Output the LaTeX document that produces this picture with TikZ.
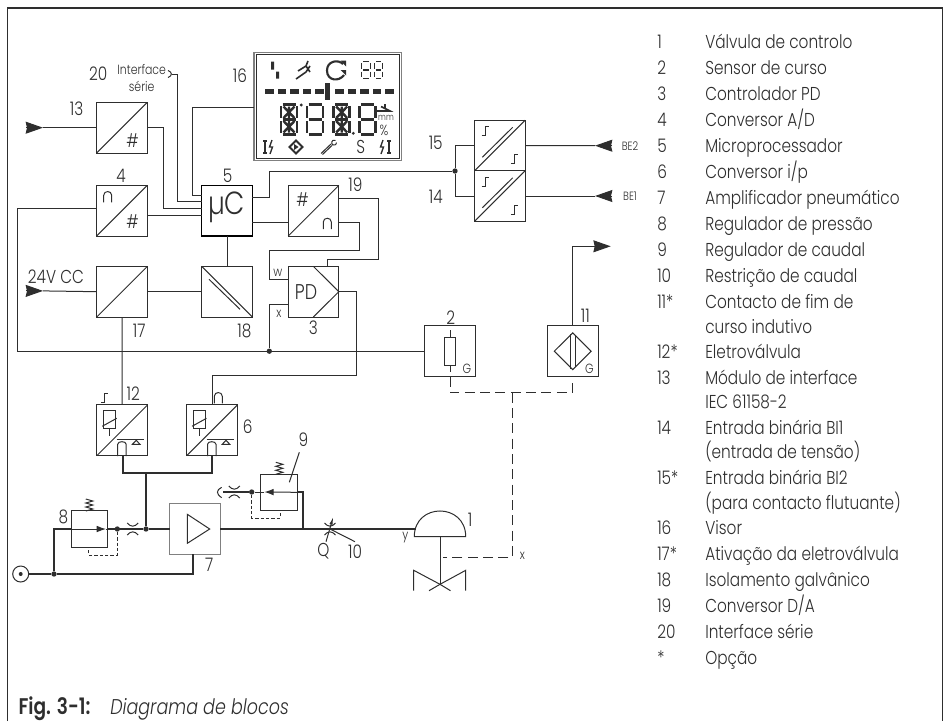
\documentclass[tikz,border=0pt]{standalone}
\usepackage{fontspec}
\setmainfont{Poppins Light}[FakeStretch=0.82,BoldFont={Poppins SemiBold},ItalicFont={Poppins Light Italic}]
\usetikzlibrary{arrows.meta,calc}
\definecolor{ink}{gray}{0.18}
\tikzset{
  wire/.style={line width=0.75pt,draw=ink},
  pipe/.style={line width=1.5pt,draw=ink},
  blk/.style={draw=ink,line width=0.75pt,minimum size=38pt,inner sep=0pt,outer sep=0pt},
  valv/.style={blk,minimum size=27.3pt},
  lbl/.style={font=\fontsize{14}{16}\selectfont,text=ink,inner sep=0pt},
  tiny/.style={font=\fontsize{10}{12}\selectfont,text=ink,inner sep=0pt},
  dot/.style={circle,fill=ink,inner sep=0pt,minimum size=4pt},
  tipin/.style={wire,-{Stealth[length=13pt,width=9pt,inset=1pt]}},
  sensor/.style={wire,dash pattern=on 7.5pt off 4pt},
  pilot/.style={line width=0.6pt,draw=ink,dash pattern=on 2.5pt off 1.5pt},
  pics/capsym/.style={code={\draw[wire] (-4,5) -- (-4,-2) .. controls (-4,-7) and (4,-7) .. (4,-2) -- (4,5);}},
  pics/stepsym/.style={code={\draw[wire] (-3.5,4.5) -- (0,4.5) -- (0,-4.5) -- (3.5,-4.5);}},
  pics/choke/.style={code={\draw[wire] (-5.5,-6) .. controls (-2,-1.8) and (2,-1.8) .. (5.5,-6) (-5.5,6) .. controls (-2,1.8) and (2,1.8) .. (5.5,6);}},
  pics/spring/.style={code={\draw[wire] (-3.5,0) -- (3.5,-2) -- (-3.5,-4) -- (3.5,-6) -- (-3.5,-8) -- (3.5,-10) -- (-3.5,-12);}},
  pics/convsym/.style={code={
    \draw[wire] (6.5,-20) rectangle (18.5,-1.5);
    \draw[wire] (12.5,-1.5) -- (12.5,6);
    \draw[wire] (5.5,-4) -- (20,-12);
    \draw[wire] (20,9.3) -- (47.5,9.3);
    \draw[wire] (21,25.7) -- (21,14) .. controls (21,10.5) and (29.5,10.5) .. (29.5,14) -- (29.5,25.7);
    \draw[wire] (35.7,14) -- (39.5,10) -- (43.3,14) -- cycle;}},
}
\newcommand{\lcdeight}[5]{
  \draw[line width=#5,draw=ink] (#1-#3+1.5,#2-#4) -- (#1+#3-1.5,#2-#4)
    (#1-#3+1.5,#2) -- (#1+#3-1.5,#2) (#1-#3+1.5,#2+#4) -- (#1+#3-1.5,#2+#4)
    (#1-#3,#2-#4+1.5) -- (#1-#3,#2-1.5) (#1+#3,#2-#4+1.5) -- (#1+#3,#2-1.5)
    (#1-#3,#2+1.5) -- (#1-#3,#2+#4-1.5) (#1+#3,#2+1.5) -- (#1+#3,#2+#4-1.5);
}
\newcommand{\lcdstar}[3]{
  \draw[line width=#3,draw=ink] (#1-5.5,#2-13) -- (#1+5.5,#2-1.5) (#1+5.5,#2-13) -- (#1-5.5,#2-1.5)
    (#1-5.5,#2+13) -- (#1+5.5,#2+1.5) (#1+5.5,#2+13) -- (#1-5.5,#2+1.5) (#1,#2-13) -- (#1,#2+13);
}
\begin{document}
\begin{tikzpicture}[x=0.75pt,y=-0.75pt]
  \useasboundingbox (0,0) rectangle (944,721);
  \draw[line width=1pt,draw=ink] (7.5,721) -- (7.5,8) -- (942.3,8) -- (942.3,721);

  % converters
  \node[blk] (b13) at (122,127.7) {};
  \node[blk] (b4) at (122,210.7) {};
  \node[blk,line width=1.2pt,draw=black] (b5) at (227,210.7) {};
  \node[blk] (b19) at (313.5,210.7) {};
  \node[blk] (b15) at (499.8,145.5) {};
  \node[blk] (b14) at (499.8,196) {};
  \node[blk] (b17) at (122,291.7) {};
  \node[blk] (b18) at (227,291.7) {};
  \node[blk] (b3) at (313.5,291.7) {};
  \node[blk] (b2) at (450.3,351.2) {};
  \node[blk] (b11) at (572.7,351.2) {};
  \node[blk] (b12) at (122.2,430.3) {};
  \node[blk] (b6) at (212,430.3) {};
  \node[blk,draw=gray,line width=1.2pt] (b7) at (195,529) {};
  \node[valv] (b8) at (89.5,529) {};
  \node[valv] (b9) at (279,492.3) {};
  \foreach \b in {b13,b4,b19,b15,b14,b17,b12,b6} \draw[wire] (\b.south west) -- (\b.north east);
  \draw[wire] (b18.north west) -- (b18.south east);
  \draw[wire] (482.3,157.3) -- (512.7,127.3) (482.3,207.8) -- (512.7,177.8) (209,279.3) -- (240,309.3);

  % symbols in the boxes
  \node[lbl] (h13) at (132.7,141) {\#};
  \node[lbl] (h4) at (132.7,221.7) {\#};
  \node[lbl] (h19) at (302.7,200) {\#};
  \pic at (107.7,197.3) {capsym};
  \pic at (327.3,224) {capsym};
  \pic at (485,131) {stepsym};
  \pic at (514.3,159.3) {stepsym};
  \pic at (485,181.5) {stepsym};
  \pic at (514.3,210) {stepsym};
  \pic at (104.3,398.3) {stepsym};
  \pic at (218.3,398.3) {capsym};
  \pic at (96.7,430.3) {convsym};
  \pic at (186.5,430.3) {convsym};
  \node[font=\fontsize{24}{24}\selectfont,text=ink,inner sep=0pt] (muc) at (226.7,207) {µC};
  \node[lbl,font=\fontsize{16}{16}\selectfont] (pd) at (306,292.3) {PD};
  \draw[wire] (313.3,266.3) -- (b3.east) -- (313.3,317);
  \draw[wire] (b7.center) ++(-7.7,-14.7) -- ++(22.4,14.7) -- ++(-22.4,14.3) -- cycle;
  \draw[wire] (444.3,337) rectangle (455.7,365.7) (450,330) -- (450,337) (450,365.7) -- (450,372.3);
  \draw[wire] (b11.center) ++(-18.4,0) -- ++(18.4,-18.3) -- ++(18.4,18.3) -- ++(-18.4,18.4) -- cycle;
  \draw[wire] (570,334) -- (570,368.7) (575.3,335.5) -- (575.3,367);
  \node[tiny] (g2) at (467,369.3) {G};
  \node[tiny] (g11) at (589.3,369.3) {G};
  \node[tiny] (w) at (277.7,273.3) {w};
  \node[tiny] (x) at (279,314.3) {x};

  % display
  \node[blk,minimum width=110.5pt,minimum height=80.7pt,draw=gray,line width=1.1pt] (b16) at (327.7,106.5) {};
  \draw[wire] (256,54.7) rectangle (399.4,158.4);
  \fill[ink] (271,61.5) rectangle (274,69.5) (276,71.5) rectangle (279,78.5);
  \draw[line width=1.2pt,draw=ink] (296,79) -- (306,72) (298,71) -- (306,66) -- (308,61) (306,66) -- (310,72) (306,72) -- (310,66);
  \draw[line width=1.6pt,draw=ink] (343,64) .. controls (338,59) and (327,61) .. (327,70.5) .. controls (327,81) and (339,82) .. (344,75);
  \fill[ink] (340.5,60.5) -- (346,60.5) -- (346,66.5) -- cycle (340.5,70) -- (346,70) -- (346,75.5) -- cycle;
  \lcdeight{366}{70}{4.2}{8.5}{1pt}
  \lcdeight{378.5}{70}{4.2}{8.5}{1pt}
  \foreach \p in {265,277.5,290,302.5,315,335,347.5,360,372.5,385} \fill[ink] (\p,89.3) rectangle ++(8.6,5);
  \fill[ink] (325,83) rectangle (330.3,100);
  \lcdeight{289}{119.5}{8}{15}{2.2pt}
  \lcdeight{315}{119.5}{8}{15}{2.2pt}
  \lcdeight{341.7}{119.5}{8}{15}{2.2pt}
  \lcdeight{367.3}{119.5}{8}{15}{2.2pt}
  \lcdstar{289}{119.5}{1.8pt}
  \lcdstar{341.7}{119.5}{1.8pt}
  \fill[ink] (301.3,105) circle (1.6) (353.3,133.3) circle (1.6);
  \draw[line width=1.2pt,draw=ink] (377,111) -- (390,111) -- (381,106.5) (385,104) -- (385,108);
  \node[tiny,font=\fontsize{7}{7}\selectfont] (mm) at (386,118) {mm};
  \node[tiny,font=\fontsize{11}{11}\selectfont] (pct) at (384,130.5) {\%};
  \draw[line width=1.4pt,draw=ink] (265,141) -- (265,153) (263,141) -- (267,141) (263,153) -- (267,153);
  \draw[line width=1pt,draw=ink] (272,140) -- (269.5,147) -- (272.5,147) -- (270,154);
  \draw[line width=1.4pt,draw=ink] (296,140.5) -- (302.5,147) -- (296,153.5) -- (289.5,147) -- cycle;
  \fill[ink] (294,144) -- (298.5,147) -- (294,150) -- cycle;
  \draw[wire] (321,153.5) -- (331,144) (322.5,154.5) -- (332,145.5) (335.5,140.5) .. controls (331,139) and (331,144) .. (333,145) .. controls (335,146) and (337,144) .. (336.5,142.5);
  \node[lbl,font=\fontsize{14}{14}\selectfont] (sind) at (360.7,147) {S};
  \draw[line width=1pt,draw=ink] (383,140) -- (380.5,147) -- (383.5,147) -- (381,154);
  \draw[line width=1.4pt,draw=ink] (389,141) -- (389,153) (387,141) -- (391,141) (387,153) -- (391,153);

  % electric connections
  \coordinate (k5a) at (201.7,195); \coordinate (k5b) at (201.7,201.7);
  \coordinate (k5c) at (201.7,208.7); \coordinate (k5d) at (201.7,215.3);
  \coordinate (k5e) at (252.3,197.7); \coordinate (k5f) at (252.3,222.7);
  \coordinate (k19w) at (288.3,222.7); \coordinate (k19e) at (338.7,198);
  \coordinate (k19f) at (338.7,222.7); \coordinate (k3t) at (327.3,266.3);
  \coordinate (k3w) at (288.3,279.3); \coordinate (k3x) at (288.3,304.3);
  \coordinate (k16) at (254,107); \coordinate (kif) at (172,74);
  \coordinate (k4e) at (147.3,215.3); \coordinate (k4w) at (96.7,208.7);
  \coordinate (k15) at (474.3,145.7); \coordinate (k14) at (474.3,196);
  \node[dot] (j15) at (455,171) {};
  \node[dot] (j3) at (269.3,351.2) {};
  \draw[wire] (b13.east) -- ++(16.4,0) |- (k5c);
  \draw[wire] (kif) -- ++(5.7,0) |- (k5b);
  \draw[wire] (k16) -| (192.7,195) -- (k5a);
  \draw[wire] (k4e) -- (k5d);
  \draw[wire] (k4w) -- ++(-79,0) |- (b2.west);
  \draw[wire] (k5e) -- ++(17.4,0) |- (j15);
  \draw[wire] (k15) -| (j15) |- (k14);
  \draw[wire] (k5f) -- (k19w);
  \draw[wire] (k19e) -- ++(39.6,0) -- ++(0,61) -| (k3t);
  \draw[wire] (k19f) -- ++(21,0) -- ++(0,28) -- ++(-90.4,0) |- (k3w);
  \draw[wire] (k3x) -| (j3);
  \draw[wire] (b5.south) -- (b18.north);
  \draw[wire] (b17.east) -- (b18.west);
  \draw[wire] (b17.south) -- (b12.north);
  \draw[wire] (b3.east) -- ++(18,0) -- ++(0,83.7) -| (b6.north);
  \draw[wire] (168,70.5) .. controls (172.5,72) and (172.5,76) .. (168,77.5);
  % in and out arrows
  \coordinate (in13) at (26,127.7); \coordinate (tip13) at (43,127.7);
  \coordinate (in24) at (26,290.9); \coordinate (tip24) at (43,290.9);
  \coordinate (inb2) at (612,145.7); \coordinate (tipb2) at (595,145.7);
  \coordinate (inb1) at (612,196); \coordinate (tipb1) at (595,196);
  \coordinate (k11) at (572.7,246.3); \coordinate (tip11) at (610.7,246.3);
  \draw[tipin] (in13) -- (tip13); \draw[wire] (tip13) -- (b13.west);
  \draw[tipin] (in24) -- (tip24); \draw[wire] (tip24) -- (b17.west);
  \draw[tipin] (inb2) -- (tipb2); \draw[wire] (tipb2) -- (b15.east);
  \draw[tipin] (inb1) -- (tipb1); \draw[wire] (tipb1) -- (b14.east);
  \draw[wire] (b11.north) -- (k11);
  \draw[tipin] (k11) -- (tip11);
  % sensor line
  \coordinate (s2) at (450.3,392.7); \coordinate (s11) at (572.7,392.7);
  \coordinate (st) at (512.7,392.7); \coordinate (sb) at (512.7,557); \coordinate (sv) at (443.3,557);
  \draw[sensor] (b2.south) -- (s2) -- (s11);
  \draw[sensor] (b11.south) ++(0,6.7) -- (s11);
  \draw[sensor] (st) -- (sb) -- (sv);

  % pneumatics
  \node[circle,draw=ink,line width=0.75pt,minimum size=12pt,inner sep=0pt] (src) at (20.7,574) {};
  \fill[ink] (src.center) circle (2);
  \node[dot] (ja) at (54,574) {};
  \node[dot] (j8) at (117.3,529) {};
  \node[dot] (j7) at (146,529) {};
  \node[dot] (j9) at (251.7,492) {};
  \coordinate (k7s) at (193.3,554.3); \coordinate (kdome) at (415.8,529);
  \coordinate (kb) at (146,473.3); \coordinate (k12s) at (122.7,455.7); \coordinate (k6s) at (212,455.7);
  \coordinate (k9r) at (303.3,529); \coordinate (kex) at (222.7,492); \coordinate (k8a) at (106,529); \coordinate (k9a) at (264.3,492);
  \draw[pipe] (src) -- (ja);
  \draw[pipe] (ja) |- (b8.west);
  \draw[pipe] (ja) -| (k7s);
  \draw[pipe] (b8.east) -- (j7) -- (b7.west);
  \draw[pipe] (j7) -- (kb);
  \draw[pipe] (k12s) |- (kb) -| (k6s);
  \draw[pipe] (b7.east) -- (kdome);
  \draw[pipe] (k9r) |- (b9.east);
  \draw[pipe] (j9) -- (kex);
  \draw[wire,-{Latex[length=7pt,width=5pt]}] (b8.west) -- (k8a);
  \draw[wire] (k8a) -- (b8.east);
  \draw[wire,-{Latex[length=7pt,width=5pt]}] (b9.east) -- (k9a);
  \draw[wire] (k9a) -- (j9);
  \draw[pilot] (j8) |- (88.7,555) -- (88.7,547);
  \draw[pilot] (j9) |- (280,518) -- (280,510.3);
  \pic at (132.7,529) {choke};
  \pic at (234.3,492) {choke};
  \pic at (330,529) {choke};
  \pic at (89.3,511) {spring};
  \pic at (279.3,474.3) {spring};
  \draw[wire] (221.7,487.3) .. controls (216,490) and (216,494) .. (221.7,497.7);
  \draw[wire] (289.3,482.3) -- (299.3,452.3);
  \draw[wire,-{Latex[length=6pt,width=2.5pt]}] (326,541.7) -- (333.3,516.7);
  \draw[wire] (330,529) -- (355,541.7);
  % actuator and valve
  \draw[wire] (414.3,536.7) .. controls (414.3,502.4) and (465.7,502.4) .. (465.7,536.7) -- cycle;
  \draw[wire] (440,536.7) -- (440,584.3);
  \draw[wire] (413.7,590.7) -- (413.7,570.3) -- (440,584.3) -- (465.7,570.3) -- (465.7,590.7);
  \draw[wire] (429,590.7) -- (440,584.3) -- (450.5,590.7);

  % numbers at the parts
  \foreach \n/\px/\py in {20/98.3/73.3,16/240/76,13/76.7/109,4/121/175.7,5/227.7/175.7,19/355.3/185,15/435.7/143.3,14/435.7/196.7,17/139.3/330.7,18/244.3/330.7,3/313.3/327.3,12/133.3/394,6/247.7/426.7,2/450.7/317.7,11/585.3/316,9/303.3/439.3,8/63.3/516.7,7/209.3/565,10/355/551.7,1/470/519.3}
    \node[lbl] (n\n) at (\px,\py) {\n};
  \node[lbl] (q) at (323.3,550.7) {Q};
  \node[tiny] (y) at (405.3,537.7) {y};
  \node[tiny] (xv) at (522.3,556) {x};
  \node[lbl] (u24) at (56,276.7) {24V CC};
  \node[tiny] (if1) at (141.7,70) {Interface};
  \node[tiny] (if2) at (141.7,86.7) {série};
  \node[tiny,font=\fontsize{9}{10}\selectfont] (be2) at (630,146) {BE2};
  \node[tiny,font=\fontsize{9}{10}\selectfont] (be1) at (630,196) {BE1};

  % legend
  \foreach \k/\yy/\num/\txt in {1/44.5/1/Válvula de controlo,2/70.5/2/Sensor de curso,3/96.5/3/Controlador PD,4/122.5/4/{Conversor A/D},5/148.5/5/Microprocessador,6/174.5/6/{Conversor i/p},7/200.5/7/Amplificador pneumático,8/226.5/8/Regulador de pressão,9/252.5/9/Regulador de caudal,10/278.5/10/Restrição de caudal,11/304.5/11*/Contacto de fim de,12/354.5/12*/Eletroválvula,13/380.5/13/Módulo de interface,14/430.5/14/Entrada binária BI1,15/480.5/15*/Entrada binária BI2,16/530.5/16/Visor,17/556.5/17*/Ativação da eletroválvula,18/582.5/18/Isolamento galvânico,19/608.5/19/{Conversor D/A},20/634.5/20/Interface série,21/660.5/*/Opção}
  {
    \node[lbl,anchor=mid west] (num\k) at (657,\yy) {\num};
    \node[lbl,anchor=mid west] (txt\k) at (705,\yy) {\txt};
  }
  \node[lbl,anchor=mid west] (more1) at (705,329.5) {curso indutivo};
  \node[lbl,anchor=mid west] (more2) at (705,404.5) {IEC 61158-2};
  \node[lbl,anchor=mid west] (more3) at (705,454.5) {(entrada de tensão)};
  \node[lbl,anchor=mid west] (more4) at (705,505.5) {(para contacto flutuante)};

  % caption
  \node[lbl,anchor=mid west,font=\fontsize{17}{19}\bfseries] (figa) at (18.3,710.5) {Fig. 3-1:};
  \node[lbl,anchor=mid west,font=\fontsize{16}{18}\itshape] (figb) at (110,710.5) {Diagrama de blocos};
\end{tikzpicture}
\end{document}
